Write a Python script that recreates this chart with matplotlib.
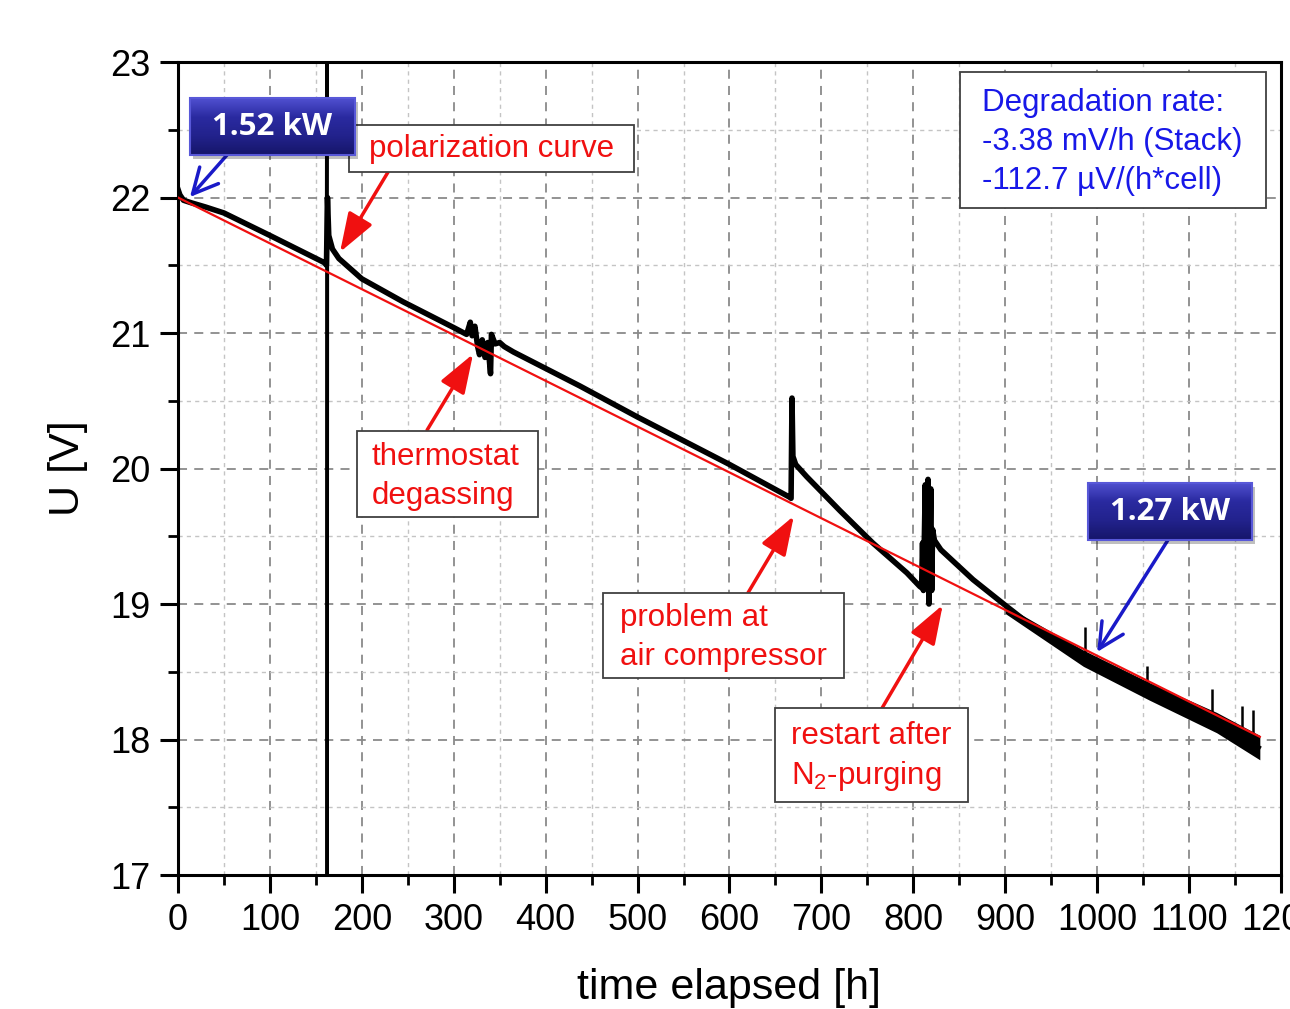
import numpy as np
import matplotlib
matplotlib.use("Agg")
import matplotlib.pyplot as plt
from matplotlib.patches import Rectangle
from matplotlib.colors import LinearSegmentedColormap
from matplotlib.ticker import MultipleLocator

plt.rcParams['font.family'] = ['Liberation Sans', 'DejaVu Sans']
plt.rcParams['mathtext.default'] = 'regular'

# stack voltage (h, V)
time_h = [0, 2, 6, 15, 30, 50, 100, 160, 161.5, 162.6, 164, 168,
          175, 200, 245, 300, 314, 318, 320, 323, 326, 328, 331, 334, 337, 340,
          341, 345, 350, 355, 365, 437, 500, 600, 665, 667, 668, 669, 672, 684,
          720, 756, 793, 807, 809, 810, 811, 813, 814, 816, 817, 819, 820, 821,
          823, 830, 865, 902, 938, 985, 1057, 1130, 1175]
voltage = [22.06, 22.02, 21.98, 21.96, 21.93, 21.886, 21.72, 21.517, 21.50,
           22.0, 21.72, 21.62, 21.55, 21.40, 21.23, 21.04, 20.99,
           21.08, 20.98, 21.05, 20.90, 20.84, 20.95, 20.82, 20.93, 20.70, 20.99,
           20.92, 20.93, 20.90, 20.86, 20.61, 20.38, 20.03, 19.79, 19.78, 20.52,
           20.09, 20.03, 19.94, 19.69, 19.45, 19.23, 19.13, 19.12, 19.45, 19.10,
           19.88, 19.15, 19.92, 19.00, 19.85, 19.10, 19.55, 19.47, 19.40, 19.18,
           18.98, 18.79, 18.61, 18.37, 18.12, 17.94]

# polarization curve excursion (runs past both axis limits)
pol_t = [161.5, 162, 162.3, 162.6]
pol_u = [21.50, 23.6, 16.8, 22.0]

# noisy band at the end of the test
tail_t = [900, 985, 1057, 1130, 1177]
tail_hi = [18.99, 18.66, 18.42, 18.20, 18.03]
tail_lo = [18.93, 18.54, 18.29, 18.05, 17.85]

# short spikes in the last part
spike_t = [987, 1054, 1125, 1158, 1170]
spike_base = [18.60, 18.38, 18.14, 18.03, 17.99]
spike_top = [18.83, 18.54, 18.37, 18.25, 18.22]

# linear fit
fit_t = [0, 1177]
fit_u = [22.0, 18.02]

RED = '#f01010'
BLUE_TXT = '#1818e8'
BLUE_ARR = '#1a1ac8'

fig = plt.figure(figsize=(12.9, 10.09), dpi=100)
ax = fig.add_axes([0.138, 0.1328, 0.855, 0.8057])

ax.plot(time_h, voltage, color='black', lw=4.0, solid_joinstyle='round', zorder=3)
ax.plot(pol_t, pol_u, color='black', lw=2.4, zorder=3)
ax.fill_between(tail_t, tail_lo, tail_hi, color='black', lw=0, zorder=3)
ax.vlines(spike_t, spike_base, spike_top, color='black', lw=1.8, zorder=3)
ax.plot(fit_t, fit_u, color=RED, lw=1.6, zorder=4)

ax.set_xlim(0, 1200)
ax.set_ylim(17, 23)
ax.xaxis.set_major_locator(MultipleLocator(100))
ax.xaxis.set_minor_locator(MultipleLocator(50))
ax.yaxis.set_major_locator(MultipleLocator(1))
ax.yaxis.set_minor_locator(MultipleLocator(0.5))

ax.grid(which='major', color='#8a8a8a', lw=1.3, linestyle=(0, (5, 4)))
ax.grid(which='minor', color='#c4c4c4', lw=1.0, linestyle=(0, (3, 3)))
ax.set_axisbelow(True)

for s in ax.spines.values():
    s.set_linewidth(2.2)
ax.tick_params(which='major', direction='out', length=13, width=2.2,
               labelsize=26, pad=7)
ax.tick_params(which='minor', direction='out', length=7, width=2.0)

ax.set_xlabel('time elapsed [h]', fontsize=31, labelpad=22)
ax.set_ylabel('U [V]', fontsize=31, labelpad=16)


def note_box(x0, x1, y0, y1):
    ax.add_patch(Rectangle((x0, y0), x1 - x0, y1 - y0, facecolor='white',
                           edgecolor='#404040', lw=1.3, zorder=6))


def navy_box(x0, x1, y0, y1, label):
    # drop shadow
    ax.add_patch(Rectangle((x0 + 3, y0 - 0.03), x1 - x0, y1 - y0,
                           facecolor='#000000', alpha=0.25, lw=0, zorder=6,
                           clip_on=False))
    cmap = LinearSegmentedColormap.from_list(
        'navy', ['#16166a', '#22228c', '#2a2aa0', '#5050d0'])
    grad = np.linspace(0, 1, 64).reshape(-1, 1)
    im = ax.imshow(grad, cmap=cmap, origin='lower', aspect='auto',
                   extent=(x0, x1, y0, y1), zorder=7, clip_on=False)
    frame = Rectangle((x0, y0), x1 - x0, y1 - y0, facecolor='none',
                      edgecolor='#5858d8', lw=1.5, zorder=8, clip_on=False)
    ax.add_patch(frame)
    im.set_clip_path(frame)
    ax.text((x0 + x1) / 2, (y0 + y1) / 2, label, color='white', fontsize=22.5,
            fontweight='bold', family=['Open Sans', 'DejaVu Sans'],
            ha='center', va='center', zorder=9)


# annotation boxes
note_box(186.1, 496.2, 22.188, 22.535)
ax.text(341, 22.355, 'polarization curve', color=RED, fontsize=22.5,
        ha='center', va='center', zorder=7)

note_box(194.8, 391.7, 19.642, 20.277)
ax.text(211, 19.94, 'thermostat\ndegassing', color=RED, fontsize=22.5,
        ha='left', va='center', linespacing=1.38, zorder=7)

note_box(462.5, 724.7, 18.454, 19.081)
ax.text(481, 18.755, 'problem at\nair compressor', color=RED, fontsize=22.5,
        ha='left', va='center', linespacing=1.38, zorder=7)

note_box(649.6, 859.6, 17.539, 18.232)
ax.text(667, 17.87, 'restart after\nN$_2$-purging', color=RED, fontsize=22.5,
        ha='left', va='center', linespacing=1.3, zorder=7)

note_box(851, 1184, 21.923, 22.926)
ax.text(875, 22.41, 'Degradation rate:\n-3.38 mV/h (Stack)\n-112.7 \u00b5V/(h*cell)',
        color=BLUE_TXT, fontsize=22.5, ha='left', va='center',
        linespacing=1.38, zorder=7)

navy_box(13.1, 192.6, 22.314, 22.734, '1.52 kW')
navy_box(990.2, 1168.7, 19.472, 19.893, '1.27 kW')

# arrows
red_arrow = dict(arrowstyle='-|>,head_length=1.2,head_width=0.42', color=RED,
                 lw=2.5, mutation_scale=20, shrinkA=0, shrinkB=0)
blue_arrow = dict(arrowstyle='->,head_length=0.9,head_width=0.45',
                  color=BLUE_ARR, lw=2.5, mutation_scale=20, shrinkA=0, shrinkB=0)

ax.annotate('', xy=(176.3, 21.598), xytext=(228.5, 22.188),
            arrowprops=red_arrow, zorder=5)
ax.annotate('', xy=(321, 20.845), xytext=(271, 20.284),
            arrowprops=red_arrow, zorder=5)
ax.annotate('', xy=(670, 19.65), xytext=(620, 19.081),
            arrowprops=red_arrow, zorder=5)
ax.annotate('', xy=(832, 18.993), xytext=(766, 18.232),
            arrowprops=red_arrow, zorder=5)
ax.annotate('', xy=(13, 22.004), xytext=(53.3, 22.314),
            arrowprops=blue_arrow, zorder=5)
ax.annotate('', xy=(1000, 18.646), xytext=(1077, 19.472),
            arrowprops=blue_arrow, zorder=5)

ax.set_xlim(0, 1200)
ax.set_ylim(17, 23)

fig.savefig('out.png', dpi=100)
